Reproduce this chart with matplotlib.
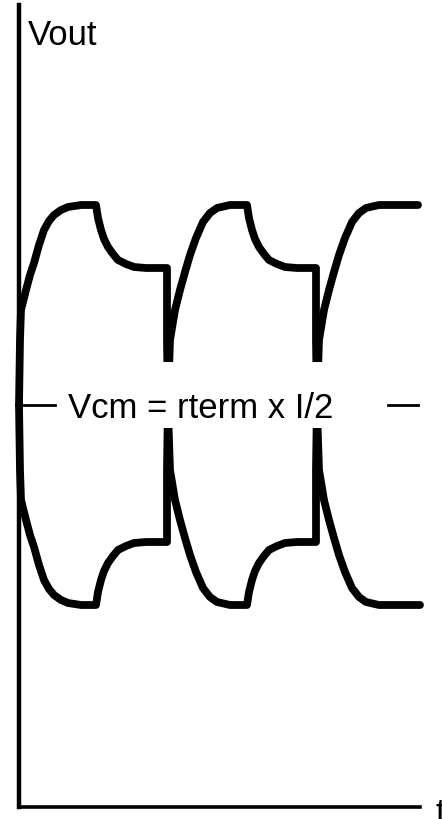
import matplotlib
matplotlib.use("Agg")
import matplotlib.pyplot as plt
from matplotlib.patches import Rectangle

# Differential output of a CML driver with de-emphasis.
# Time t (arbitrary units), voltage v relative to the common-mode level Vcm.
t_outp = [0, 1, 2, 7, 11, 15, 20, 25, 30, 35, 42, 49, 62, 77,
          79, 82, 85, 89, 94, 99, 107, 115, 127, 148,
          148, 149, 151, 156, 161, 166, 171, 177, 184, 191, 198, 211, 228,
          230, 233, 236, 240, 245, 250, 258, 266, 278, 297,
          297, 298, 300, 305, 310, 315, 320, 326, 333, 340, 347, 360, 399]
v_outp = [0, 65, 95, 115, 130, 142, 160, 175, 184, 190, 195, 198, 200, 200,
          187, 175, 166, 158, 151, 145, 141, 138, 137, 137,
          65, -5, -65, -95, -115, -133, -150, -167, -183, -192, -197, -200, -200,
          -187, -175, -166, -158, -151, -145, -141, -138, -137, -137,
          -65, 5, 65, 95, 115, 133, 150, 167, 183, 192, 197, 200, 200]

t_outn = [0, 1, 2, 7, 11, 15, 20, 25, 30, 35, 42, 49, 62, 77,
          79, 82, 85, 89, 94, 99, 107, 115, 127, 148,
          148, 149, 151, 156, 161, 166, 171, 177, 184, 191, 198, 211, 228,
          230, 233, 236, 240, 245, 250, 258, 266, 278, 297,
          297, 298, 300, 305, 310, 315, 320, 326, 333, 340, 347, 360, 401]
v_outn = [0, -65, -95, -115, -130, -142, -160, -175, -184, -190, -195, -198, -200, -200,
          -187, -175, -166, -158, -151, -145, -141, -138, -137, -137,
          -65, 5, 65, 95, 115, 133, 150, 167, 183, 192, 197, 200, 200,
          187, 175, 166, 158, 151, 145, 141, 138, 137, 137,
          65, -5, -65, -95, -115, -133, -150, -167, -183, -192, -197, -200, -200]

vcm_label = "Vcm = rterm x I/2"
y_label = "Vout"
x_label = "t"

plt.rcParams["font.family"] = ["Liberation Sans", "DejaVu Sans"]

fig = plt.figure(figsize=(4.42, 8.19), dpi=100)
ax = fig.add_axes([0, 0, 1, 1])
ax.set_xlim(-19, 423)
ax.set_ylim(-414, 405)
ax.set_xticks([])
ax.set_yticks([])
for side in ("top", "right"):
    ax.spines[side].set_visible(False)
ax.spines["left"].set_position(("data", 0))
ax.spines["bottom"].set_position(("data", -402))
ax.spines["left"].set_bounds(-402, 400)
ax.spines["bottom"].set_bounds(0, 401)
ax.spines["left"].set_linewidth(3.2)
ax.spines["bottom"].set_linewidth(2.6)
ax.patch.set_alpha(0)

line_kw = dict(color="black", lw=5.6, solid_capstyle="round",
               solid_joinstyle="round", zorder=2)
ax.plot(t_outp, v_outp, **line_kw)
ax.plot(t_outn, v_outn, **line_kw)

# common-mode marker dashes
ax.plot([0, 36], [0, 0], color="black", lw=2.0, zorder=2)
ax.plot([369, 399], [0, 0], color="black", lw=2.0, zorder=2)

# white box behind the common-mode label
ax.add_patch(Rectangle((42, -23), 284, 66, facecolor="white",
                       edgecolor="none", zorder=3))
ax.text(49, -13, vcm_label, fontsize=25, ha="left", va="baseline", zorder=4)

ax.text(9, 360, y_label, fontsize=25, ha="left", va="baseline")
ax.text(416, -418, x_label, fontsize=25, ha="left", va="baseline")

fig.savefig("out.png", dpi=100, facecolor="white")
